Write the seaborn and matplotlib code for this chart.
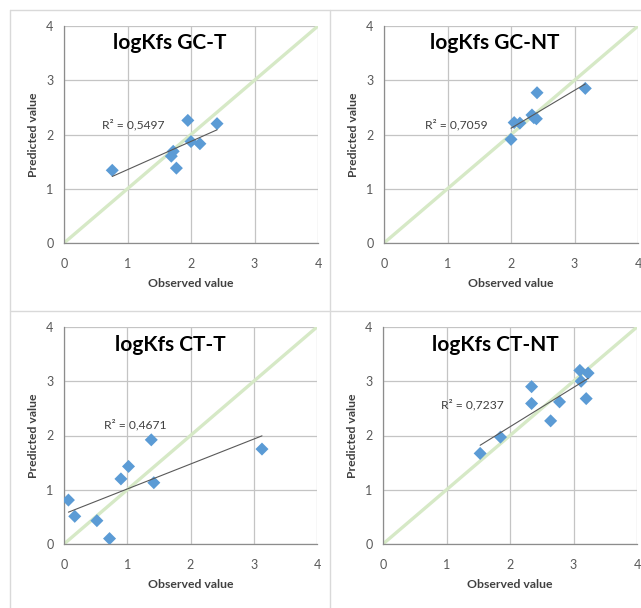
"""
Observed vs predicted logKfs, four scatter panels with 1:1 line and linear trend
"""
import numpy as np
import pandas as pd
import matplotlib.pyplot as plt
from matplotlib.lines import Line2D
import seaborn as sns

# panel titles and R² labels as printed on the chart
titles = ['logKfs GC-T', 'logKfs GC-NT', 'logKfs CT-T', 'logKfs CT-NT']
r2_labels = ['R² = 0,5497', 'R² = 0,7059', 'R² = 0,4671', 'R² = 0,7237']

# observed / predicted values
gc_t_obs = [0.76, 1.95, 2.41, 2.00, 2.14, 1.72, 1.69, 1.77]
gc_t_pred = [1.34, 2.26, 2.20, 1.87, 1.83, 1.69, 1.60, 1.38]

gc_nt_obs = [2.00, 2.05, 2.14, 2.33, 2.36, 2.40, 2.41, 3.17]
gc_nt_pred = [1.91, 2.22, 2.21, 2.36, 2.31, 2.29, 2.77, 2.85]

ct_t_obs = [0.07, 0.17, 0.52, 0.72, 0.90, 1.02, 1.38, 1.42, 3.13]
ct_t_pred = [0.81, 0.51, 0.43, 0.10, 1.20, 1.43, 1.92, 1.13, 1.75]

ct_nt_obs = [1.53, 1.85, 2.34, 2.34, 2.64, 2.78, 3.10, 3.12, 3.23, 3.20]
ct_nt_pred = [1.67, 1.97, 2.59, 2.90, 2.27, 2.62, 3.20, 3.00, 3.15, 2.68]

ticks = [0, 1, 2, 3, 4]

panels = [
    (gc_t_obs, gc_t_pred),
    (gc_nt_obs, gc_nt_pred),
    (ct_t_obs, ct_t_pred),
    (ct_nt_obs, ct_nt_pred),
]

sns.set_style('white')
plt.rcParams['font.family'] = ['Lato', 'DejaVu Sans']

W, H = 641, 608
fig = plt.figure(figsize=(W / 100, H / 100), dpi=100)

# axes rectangles in pixels: left, top, right, bottom
rects_px = [(64, 26, 318, 243), (384, 26, 638, 243),
            (64, 327, 317, 544), (383, 327, 637, 544)]
title_px = [(170, 43), (495, 43), (170, 345), (495, 345)]
r2_pos = [(1.09, 2.18), (1.14, 2.18), (1.12, 2.20), (1.40, 2.56)]

blue = '#5b9bd5'
green = '#d6e9c6'
grid_c = '#c4c4c4'
axis_c = '#8c8c8c'
text_c = '#595959'

for i, (obs, pred) in enumerate(panels):
    l, t, r, b = rects_px[i]
    ax = fig.add_axes([l / W, (H - b) / H, (r - l) / W, (b - t) / H])
    df = pd.DataFrame({'obs': obs, 'pred': pred})

    # 1:1 reference line
    ax.plot([0, 4], [0, 4], color=green, linewidth=2.4, zorder=1, solid_capstyle='butt')

    sns.scatterplot(data=df, x='obs', y='pred', marker='D', s=44,
                    color=blue, edgecolor='none', ax=ax, zorder=3)
    sns.regplot(data=df, x='obs', y='pred', scatter=False, ci=None,
                line_kws={'color': '#595959', 'linewidth': 0.8, 'zorder': 4}, ax=ax)

    ax.text(r2_pos[i][0], r2_pos[i][1], r2_labels[i], ha='center', va='center',
            fontsize=8.7, color='#404040', zorder=5)

    ax.set_xlim(0, 4)
    ax.set_ylim(0, 4)
    ax.set_xticks(ticks)
    ax.set_yticks(ticks)
    ax.grid(True, color=grid_c, linewidth=0.9)
    ax.set_axisbelow(True)
    for s in ['top', 'right']:
        ax.spines[s].set_visible(False)
    for s in ['left', 'bottom']:
        ax.spines[s].set_color(axis_c)
        ax.spines[s].set_linewidth(0.9)
    ax.tick_params(axis='both', direction='out', length=3.5, width=0.9,
                   color=axis_c, labelsize=9, labelcolor=text_c)
    ax.tick_params(axis='x', pad=7)
    ax.tick_params(axis='y', pad=4)

    ax.set_xlabel('Observed value', fontsize=8.8, fontweight='bold', color='#404040')
    ax.set_ylabel('Predicted value', fontsize=8.8, fontweight='bold', color='#404040')
    ax.xaxis.set_label_coords(0.5, -0.16)
    ax.yaxis.set_label_coords(-0.10, 0.5)

    tx, ty = title_px[i]
    fig.text(tx / W, (H - ty) / H, titles[i], ha='center', va='center',
             fontsize=15, fontweight='bold', color='black')

# chart-area frames
frame_c = '#d9d9d9'
for x0, y0, x1, y1 in [(10, 10, 641, 10), (10, 311, 641, 311),
                       (10, 10, 10, 608), (330, 10, 330, 608)]:
    fig.add_artist(Line2D([x0 / W, x1 / W], [(H - y0) / H, (H - y1) / H],
                          color=frame_c, linewidth=1.0, transform=fig.transFigure))

plt.savefig('out.png', dpi=100)
